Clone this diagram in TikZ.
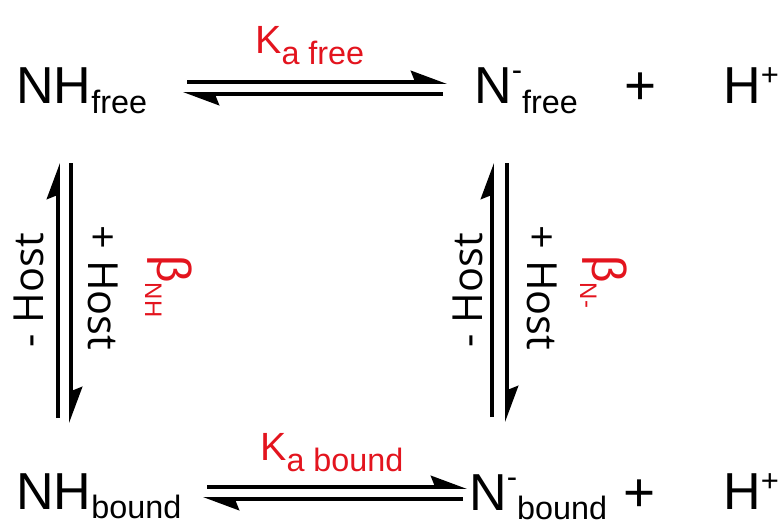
\documentclass[tikz,border=0pt]{standalone}
\usepackage{fontspec}
\setmainfont{Liberation Sans}
\newfontfamily\hostfont{Open Sans}
\usepackage{xcolor}
\usepackage{tikz}
\usetikzlibrary{arrows.meta}
\definecolor{schemeRed}{HTML}{E3141E}
\definecolor{schemeInk}{HTML}{000000}
\newcommand{\lowsub}[2][7.8pt]{\raisebox{-#1}{\fontsize{23}{25}\selectfont #2}}
\newcommand{\highsup}[2][16pt]{\raisebox{#1}{\fontsize{22}{24}\selectfont #2}}
\tikzset{
  species/.style={
    anchor=base west,
    inner sep=0pt,
    text=schemeInk,
    font=\fontsize{37}{42}\selectfont
  },
  kconst/.style={
    anchor=base west,
    inner sep=0pt,
    text=schemeRed,
    font=\fontsize{28}{30}\selectfont
  },
  hostlabel/.style={
    anchor=base,
    inner sep=0pt,
    text=schemeInk,
    font=\hostfont\fontsize{29.5}{32}\selectfont
  },
  betalabel/.style={
    anchor=base west,
    inner sep=0pt,
    rotate=-90,
    text=schemeRed,
    font=\fontsize{34}{36}\selectfont
  },
  harpoon/.style={
    -{Stealth[left,length=22pt,width=16pt,inset=3pt]},
    line width=2.7pt,
    draw=schemeInk
  }
}

\begin{document}
\begin{tikzpicture}[x=0.025cm,y=-0.025cm]
  \useasboundingbox (0,0) rectangle (784,527);
  % species, one px of the scheme per unit
  \node[species] (nhfree) at (16,103) {NH\lowsub{free}};
  \node[species] (nfree) at (474,103) {N\highsup{-}\lowsub{free}};
  \node[species] (plusfree) at (624,104) {\fontsize{39}{42}\selectfont +};
  \node[species] (hfree) at (723,103) {H\highsup[12.5pt]{+}};
  \node[species] (nhbound) at (16,509) {NH\lowsub[6.5pt]{bound}};
  \node[species] (nbound) at (469,510) {N\highsup{-}\lowsub[7pt]{bound}};
  \node[species] (plusbound) at (623,511) {\fontsize{39}{42}\selectfont +};
  \node[species] (hbound) at (723,509) {H\highsup[12.5pt]{+}};
  \node[kconst] (kfree) at (255,53) {K\lowsub[8.5pt]{a free}};
  \node[kconst] (kbound) at (260,460) {K\lowsub[8.5pt]{a bound}};
  % deprotonation
  \draw[harpoon] ([shift={(171,-21)}]nhfree.base west) -- ([shift={(-27,-21)}]nfree.base west);
  \draw[harpoon] ([shift={(-31,-9)}]nfree.base west) -- ([shift={(167,-9)}]nhfree.base west);
  \draw[harpoon] ([shift={(191,-22)}]nhbound.base west) -- ([shift={(-2,-23)}]nbound.base west);
  \draw[harpoon] ([shift={(-6,-11)}]nbound.base west) -- ([shift={(187,-10)}]nhbound.base west);
  % host binding
  \draw[harpoon] ([shift={(42,-91)}]nhbound.base west) -- ([shift={(42,60)}]nhfree.base west);
  \draw[harpoon] ([shift={(55,60)}]nhfree.base west) -- ([shift={(55,-86)}]nhbound.base west);
  \draw[harpoon] ([shift={(23,-93)}]nbound.base west) -- ([shift={(18,60)}]nfree.base west);
  \draw[harpoon] ([shift={(33,60)}]nfree.base west) -- ([shift={(38,-88)}]nbound.base west);
  \node[hostlabel,rotate=90] (offleft) at (43,290) {- Host};
  \node[hostlabel,rotate=-90] (onleft) at (88,288) {+ Host};
  \node[hostlabel,rotate=90] (offright) at (482,290) {- Host};
  \node[hostlabel,rotate=-90] (onright) at (527,288) {+ Host};
  \node[betalabel] (betanh) at (157,255) {β\lowsub[8.5pt]{\fontsize{17}{19}\selectfont NH}};
  \node[betalabel] (betan) at (592,255) {β\lowsub[8.5pt]{\fontsize{17}{19}\selectfont N-}};
\end{tikzpicture}
\end{document}
